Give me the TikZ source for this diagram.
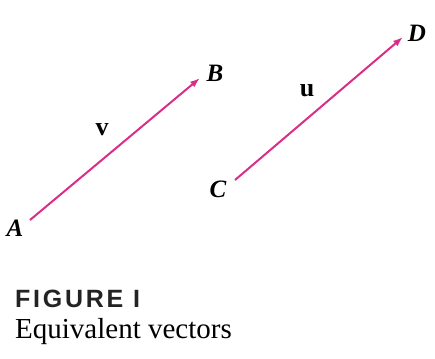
\documentclass[tikz,border=0pt]{standalone}
\usepackage{fontspec}
\setmainfont{Liberation Serif}
\newfontfamily\captionsans[LetterSpace=11]{Liberation Sans}
\usetikzlibrary{arrows.meta}
\definecolor{vecpink}{RGB}{218,45,135}
\definecolor{capgray}{RGB}{35,35,35}

\begin{document}
\begin{tikzpicture}[x=1pt, y=-1pt,
    vec/.style={vecpink, line width=2pt, -{Latex[length=10pt, width=7pt]}},
    pointlabel/.style={font=\fontsize{25}{28}\selectfont\bfseries\itshape, inner sep=0pt},
    veclabel/.style={font=\fontsize{26}{30}\selectfont\bfseries, inner sep=0pt}]
    \useasboundingbox (0,0) rectangle (435,358);

    % Vector v from A to B
    \coordinate (tailA) at (30,220);
    \coordinate (headB) at (200,78);
    \node[pointlabel] (A) at (15,228) {A};
    \node[pointlabel] (B) at (215,73) {B};
    \node[veclabel] (v) at (102,130) {v};
    \draw[vec] (tailA) -- (headB);

    % Vector u from C to D
    \coordinate (tailC) at (235,180);
    \coordinate (headD) at (403,37);
    \node[pointlabel] (C) at (218,189) {C};
    \node[pointlabel] (D) at (417,33) {D};
    \node[veclabel] (u) at (307,91) {u};
    \draw[vec] (tailC) -- (headD);

    % Caption
    \node[anchor=base west, inner sep=0pt, text=capgray,
          font=\captionsans\fontsize{25}{29}\selectfont\bfseries] (figno) at (15,307) {FIGURE I};
    \node[anchor=base west, inner sep=0pt,
          font=\fontsize{29}{34}\selectfont] (caption) at (15,338) {Equivalent vectors};
\end{tikzpicture}
\end{document}
